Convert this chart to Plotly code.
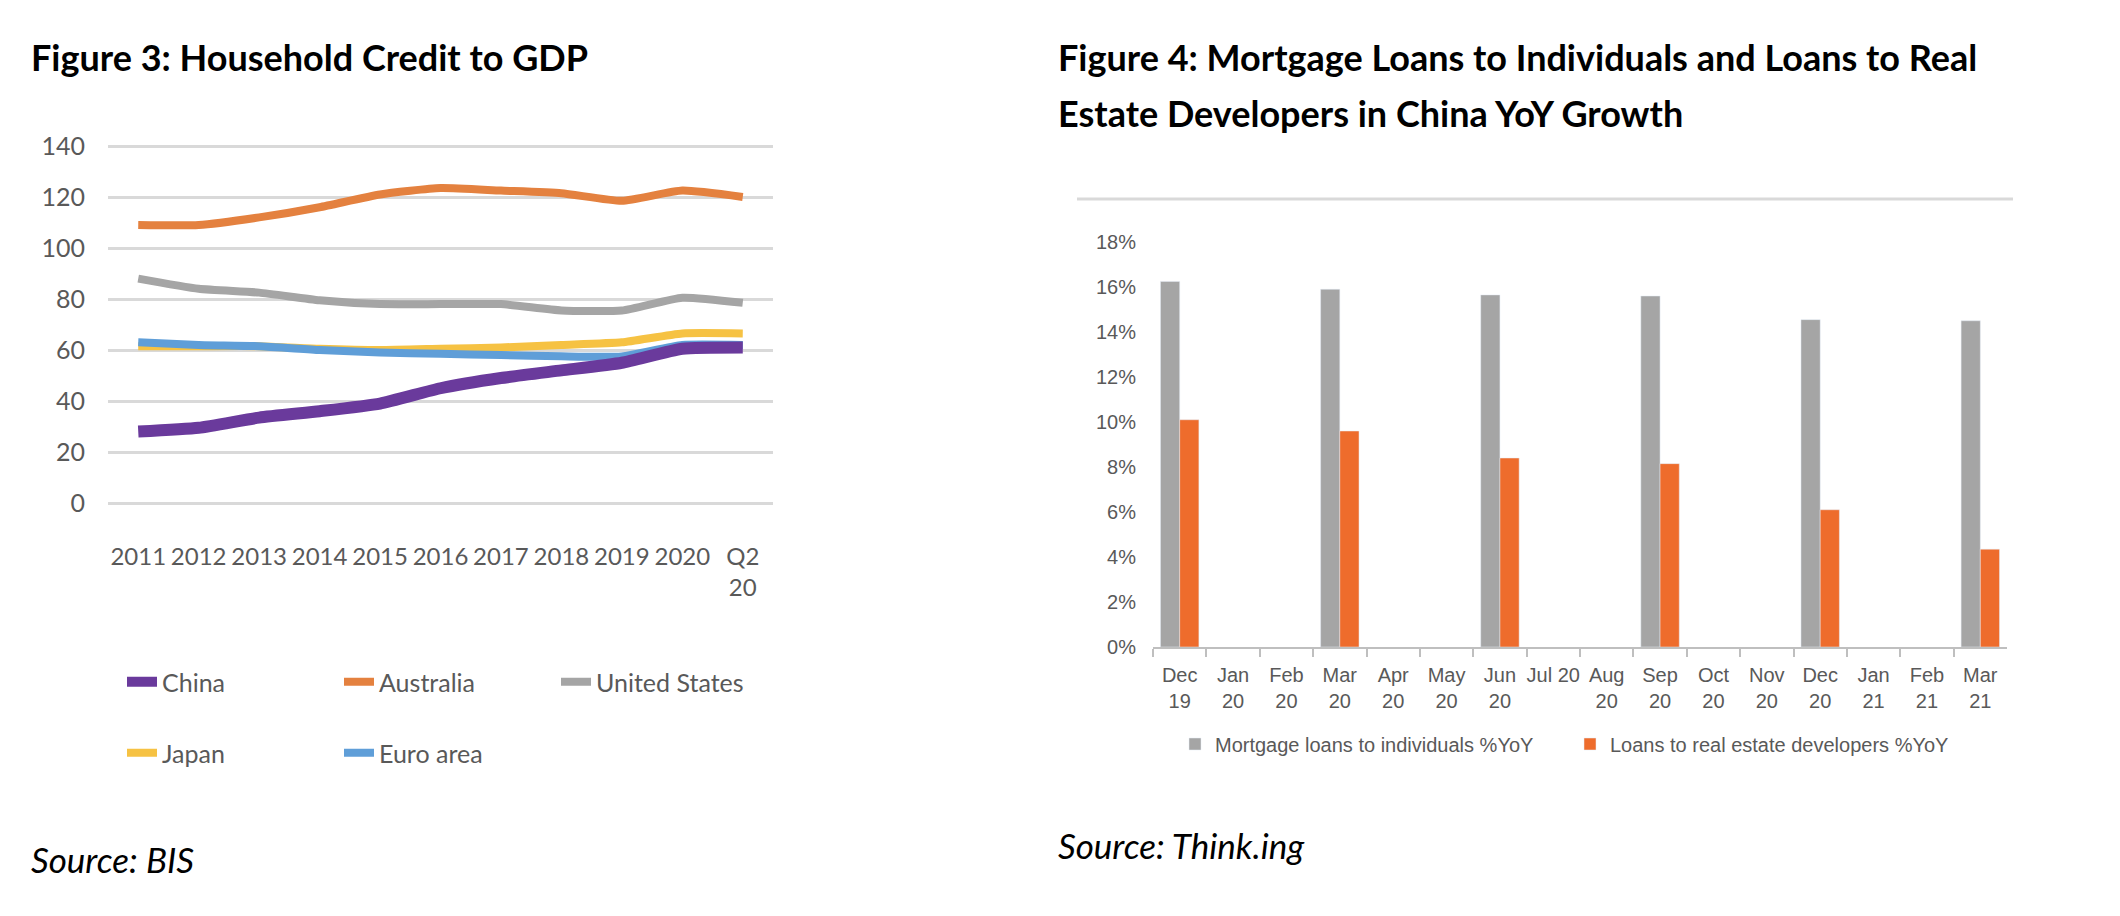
import plotly.graph_objects as go

# Figure 3 data (household credit to GDP, %)
years = ['2011', '2012', '2013', '2014', '2015', '2016', '2017', '2018', '2019', '2020', 'Q2<br>20']
china = [28, 29.5, 33.5, 36, 39, 45, 49, 52, 55, 60.5, 61]
australia = [109, 109, 112, 116, 121, 123.5, 122.5, 121.5, 118.5, 122.5, 120]
united_states = [88, 84, 82.5, 79.5, 78, 78, 78, 75.5, 75.5, 80.5, 78.5]
japan = [61.5, 61.5, 61.5, 60.5, 60, 60.5, 61, 62, 63, 66.5, 66.5]
euro_area = [63, 62, 61.5, 60, 59, 58.5, 58, 57.5, 57.5, 62, 62]

# Figure 4 data (YoY growth, %)
months = ['Dec<br>19', 'Jan<br>20', 'Feb<br>20', 'Mar<br>20', 'Apr<br>20', 'May<br>20', 'Jun<br>20', 'Jul 20',
          'Aug<br>20', 'Sep<br>20', 'Oct<br>20', 'Nov<br>20', 'Dec<br>20', 'Jan<br>21', 'Feb<br>21', 'Mar<br>21']
mortgage = [16.25, None, None, 15.9, None, None, 15.65, None, None, 15.6, None, None, 14.55, None, None, 14.5]
developers = [10.1, None, None, 9.6, None, None, 8.4, None, None, 8.15, None, None, 6.1, None, None, 4.35]

W, H = 2120, 916
OFF = 8  # the page puts the plot 8px in from the top-left corner
lato = 'Lato, Noto Sans, sans-serif'
sans = 'Liberation Sans, Arial, sans-serif'
tick_grey = '#595959'


def px_x(v):
    return (v - OFF) / W


def px_y(v):
    return 1 - (v - OFF) / H


fig = go.Figure()

# left chart lines (China drawn last so it sits on top)
line_series = [
    ('Australia', australia, '#E4813F', 8, 'legend', 2),
    ('United States', united_states, '#A5A5A5', 8, 'legend', 3),
    ('Japan', japan, '#F6C243', 8, 'legend2', 1),
    ('Euro area', euro_area, '#5F9ED8', 8, 'legend2', 2),
    ('China', china, '#6A3A9C', 12, 'legend', 1),
]
for name, vals, color, width, leg, rank in line_series:
    fig.add_trace(go.Scatter(
        x=years, y=vals, name=name, mode='lines',
        line=dict(color=color, width=width, shape='spline', smoothing=0.5),
        xaxis='x', yaxis='y', legend=leg, legendrank=rank,
    ))

# right chart bars
fig.add_trace(go.Bar(x=months, y=mortgage, name='Mortgage loans to individuals %YoY',
                     marker_color='#A5A5A5', xaxis='x2', yaxis='y2', legend='legend3'))
fig.add_trace(go.Bar(x=months, y=developers, name='Loans to real estate developers %YoY',
                     marker_color='#EE6C2C', xaxis='x2', yaxis='y2', legend='legend3'))

left_legend = dict(orientation='h', xanchor='left', yanchor='middle', entrywidth=172,
                   font=dict(family=lato, size=25, color=tick_grey), bgcolor='rgba(0,0,0,0)')

fig.update_layout(
    width=W, height=H,
    margin=dict(l=0, r=0, t=0, b=0, pad=0, autoexpand=False),
    paper_bgcolor='white', plot_bgcolor='white',
    barmode='group', bargap=0.28, bargroupgap=0,
    xaxis=dict(domain=[px_x(108), px_x(773)], range=[-0.5, 10.5], showgrid=False, zeroline=False,
               showline=False, ticks='', tickangle=0, automargin=False,
               tickfont=dict(family=lato, size=24, color=tick_grey),
               ticklabelstandoff=32, anchor='y'),
    yaxis=dict(domain=[px_y(508.1), px_y(140.9)], range=[-2, 142], dtick=20, tick0=0,
               showgrid=True, gridcolor='#D9D9D9', gridwidth=3, zeroline=False, showline=False,
               automargin=False, tickfont=dict(family=lato, size=25, color=tick_grey),
               ticklabelstandoff=22, anchor='x'),
    xaxis2=dict(domain=[px_x(1153), px_x(2007)], showgrid=False, zeroline=False,
                showline=True, linecolor='#BFBFBF', linewidth=2, tickangle=0, automargin=False,
                ticks='outside', tickson='boundaries', ticklen=8, tickcolor='#BFBFBF', tickwidth=2,
                tickfont=dict(family=sans, size=20, color=tick_grey),
                ticklabelstandoff=9, anchor='y2'),
    yaxis2=dict(domain=[px_y(647), px_y(242)], range=[0, 18], dtick=2, ticksuffix='%',
                showgrid=False, zeroline=False, showline=False, automargin=False,
                tickfont=dict(family=sans, size=20, color=tick_grey),
                ticklabelstandoff=16, anchor='x2'),
    legend=dict(left_legend, x=px_x(122), y=px_y(682)),
    legend2=dict(left_legend, x=px_x(122), y=px_y(753)),
    legend3=dict(orientation='h', x=px_x(1175), y=px_y(744), xanchor='left', yanchor='middle',
                 entrywidth=350, font=dict(family=sans, size=20, color=tick_grey),
                 bgcolor='rgba(0,0,0,0)'),
    showlegend=True,
)

# chart border line above the bar chart
fig.add_shape(type='line', xref='paper', yref='paper', x0=px_x(1077), x1=px_x(2013),
              y0=px_y(199), y1=px_y(199), line=dict(color='#D9D9D9', width=3))

title_font = dict(family=lato, size=36, color='black')
source_font = dict(family=lato, size=35, color='black')
texts = [
    ('<b>Figure 3: Household Credit to GDP</b>', 29, 57.5, title_font),
    ('<b>Figure 4: Mortgage Loans to Individuals and Loans to Real</b>', 1056, 57.5, title_font),
    ('<b>Estate Developers in China YoY Growth</b>', 1056, 112.5, title_font),
    ('<i>Source: BIS</i>', 29, 859, source_font),
    ('<i>Source: Think.ing</i>', 1056, 845, source_font),
]
for txt, x, y, f in texts:
    fig.add_annotation(text=txt, xref='paper', yref='paper', x=px_x(x), y=px_y(y),
                       xanchor='left', yanchor='middle', showarrow=False, font=f)

fig.write_html("out.html")
